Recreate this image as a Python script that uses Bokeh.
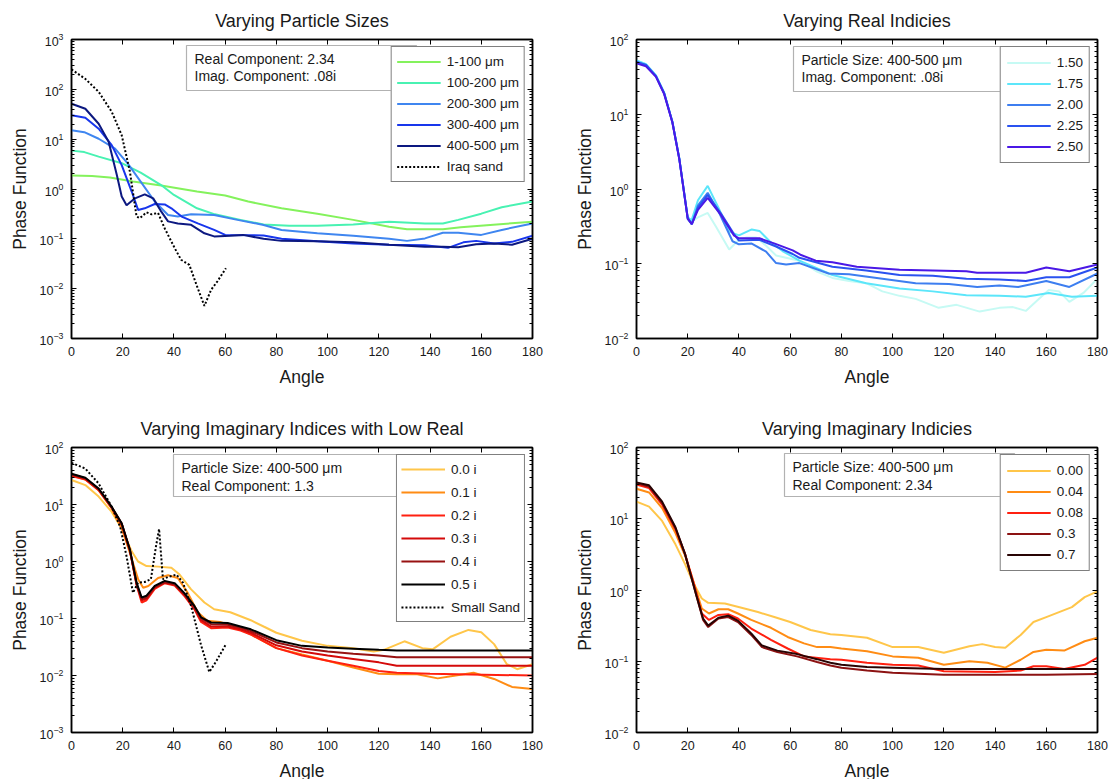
from bokeh.plotting import figure
from bokeh.models import Range1d, FixedTicker, LinearAxis, BoxAnnotation, Label, CustomJSTickFormatter
from bokeh.layouts import column, row
from bokeh.embed import file_html
from bokeh.resources import INLINE

FONT = "Liberation Sans"
INK = "#1a1a1a"

angle_ticks = [0, 20, 40, 60, 80, 100, 120, 140, 160, 180]

# ---------------- Panel 1: Varying Particle Sizes ----------------
size_1_100_angle = [0, 8, 15, 24, 35, 49, 60, 69, 82, 96, 110, 124, 131, 145, 152, 166, 180]
size_1_100_phase = [1.86, 1.82, 1.70, 1.41, 1.17, 0.89, 0.74, 0.56, 0.41, 0.32, 0.24, 0.174, 0.155, 0.155, 0.170, 0.195, 0.219]
size_100_200_angle = [0, 5, 10.6, 20, 27, 35, 40, 49, 56, 66, 75, 85, 96, 110, 124, 138, 145, 151, 160, 168, 180]
size_100_200_phase = [5.89, 5.50, 4.47, 3.24, 2.14, 1.20, 0.76, 0.41, 0.31, 0.24, 0.195, 0.182, 0.182, 0.195, 0.219, 0.204, 0.204, 0.24, 0.32, 0.43, 0.56]
size_200_300_angle = [0, 5, 10.6, 17, 22, 27, 32.5, 37.7, 41.5, 46.7, 55.7, 64.8, 75, 82, 96, 110, 124, 131, 138, 145, 151, 160, 168, 180]
size_200_300_phase = [15.1, 13.8, 10.2, 6.46, 3.24, 1.41, 0.56, 0.30, 0.28, 0.31, 0.30, 0.24, 0.19, 0.151, 0.129, 0.115, 0.100, 0.091, 0.102, 0.132, 0.132, 0.120, 0.151, 0.204]
size_300_400_angle = [0, 5.4, 10.6, 15.7, 19.6, 23.5, 26, 28.6, 32.5, 36.4, 39, 43, 49.3, 55.7, 60, 75, 82, 96, 110, 124, 138, 147, 153, 158, 165, 172, 180]
size_300_400_phase = [30.2, 26.9, 16.2, 7.59, 3.02, 0.89, 0.38, 0.41, 0.50, 0.49, 0.41, 0.28, 0.204, 0.151, 0.120, 0.117, 0.100, 0.089, 0.081, 0.076, 0.074, 0.066, 0.085, 0.091, 0.081, 0.087, 0.115]
size_400_500_angle = [0, 5.4, 10.6, 14.5, 17.7, 19.6, 21.5, 24.8, 28.6, 31.9, 35, 37.7, 41.5, 46.7, 51.9, 55.7, 62, 67, 75, 82, 96, 110, 124, 138, 145, 151, 158, 165, 172, 180]
size_400_500_phase = [51.3, 40.7, 20.4, 8.91, 1.91, 0.71, 0.47, 0.65, 0.78, 0.65, 0.355, 0.224, 0.204, 0.191, 0.129, 0.112, 0.115, 0.120, 0.100, 0.091, 0.089, 0.085, 0.076, 0.069, 0.069, 0.068, 0.078, 0.081, 0.076, 0.100]
iraq_sand_angle = [0, 5.4, 10.6, 15.7, 19.6, 22.8, 25.4, 26.7, 29.3, 31.2, 33.8, 36.4, 40.3, 42.8, 46, 49.3, 51.9, 54.5, 57, 60.3]
iraq_sand_phase = [251, 162, 89.1, 35.5, 12.0, 2.24, 0.28, 0.26, 0.34, 0.31, 0.33, 0.162, 0.065, 0.038, 0.030, 0.0102, 0.0045, 0.0095, 0.0141, 0.0257]

# ---------------- Panel 2: Varying Real Indicies ----------------
real_150_angle = [0, 3.7, 7.6, 10.8, 14, 16.7, 20, 21, 24, 27.8, 31, 36.2, 40, 43, 46.7, 50.6, 54.5, 63.6, 70.2, 76.5, 83, 89.7, 96, 102.7, 109, 118, 125, 134, 141.7, 147, 152, 157.5, 161, 165, 169, 174.5, 180]
real_150_phase = [52.5, 46.8, 33.1, 19.5, 7.94, 2.57, 0.389, 0.355, 0.417, 0.479, 0.316, 0.155, 0.209, 0.224, 0.224, 0.174, 0.129, 0.110, 0.0794, 0.0646, 0.0589, 0.0550, 0.0427, 0.0372, 0.0339, 0.0257, 0.0282, 0.0229, 0.0257, 0.0263, 0.0234, 0.0347, 0.0447, 0.0427, 0.0309, 0.0407, 0.0631]
real_175_angle = [0, 3.7, 7.6, 10.8, 14, 16.7, 20, 21.5, 24, 27.8, 32, 36.2, 40, 45, 48, 52, 57, 63.6, 76.5, 89.7, 102.7, 115.7, 128.8, 141.7, 152, 161, 170, 180]
real_175_phase = [52.5, 46.8, 33.1, 19.5, 7.94, 2.57, 0.417, 0.380, 0.708, 1.10, 0.562, 0.269, 0.240, 0.288, 0.275, 0.200, 0.148, 0.110, 0.0708, 0.0550, 0.0468, 0.0427, 0.0380, 0.0372, 0.0363, 0.0407, 0.0363, 0.0372]
real_200_angle = [0, 3.7, 7.6, 10.8, 14, 16.7, 20, 21.6, 24, 27.8, 32, 37.5, 40, 45, 50.6, 54.5, 58.4, 63.6, 75, 83, 96, 109, 122, 133, 141.7, 149, 160, 169, 180]
real_200_phase = [50.1, 45.7, 32.4, 19.1, 7.94, 2.57, 0.407, 0.339, 0.603, 0.891, 0.501, 0.200, 0.182, 0.186, 0.145, 0.102, 0.0977, 0.102, 0.0741, 0.0724, 0.0631, 0.0550, 0.0537, 0.0490, 0.0513, 0.0490, 0.0589, 0.0490, 0.0741]
real_225_angle = [0, 3.7, 7.6, 10.8, 14, 16.7, 20, 21.6, 24, 27.8, 33, 38, 40, 48, 54.5, 61, 63.6, 76.5, 89.7, 102.7, 115.7, 128.8, 141.7, 152, 160, 169, 180]
real_225_phase = [50.1, 45.7, 32.4, 19.1, 7.94, 2.57, 0.407, 0.339, 0.562, 0.832, 0.468, 0.251, 0.204, 0.209, 0.170, 0.135, 0.120, 0.0912, 0.0813, 0.0708, 0.0692, 0.0631, 0.0617, 0.0589, 0.0661, 0.0661, 0.0891]
real_250_angle = [0, 3.7, 7.6, 10.8, 14, 16.7, 20, 21.6, 24, 27.8, 33, 38, 40, 48, 54, 61, 64, 70, 76.5, 86, 102.7, 115.7, 128.8, 133, 152, 160, 169, 180]
real_250_phase = [47.9, 43.7, 31.6, 18.6, 7.76, 2.51, 0.398, 0.339, 0.525, 0.759, 0.447, 0.240, 0.219, 0.219, 0.186, 0.151, 0.132, 0.110, 0.105, 0.0912, 0.0832, 0.0813, 0.0794, 0.0759, 0.0759, 0.0891, 0.0794, 0.0977]

# ---------------- Panel 3: Varying Imaginary Indices with Low Real ----------------
low_00_angle = [0, 5.4, 10.6, 15.7, 19.6, 23.5, 26, 29.3, 33.8, 39, 42.2, 46.7, 51.9, 55.7, 62, 70, 75, 80, 90, 100, 110, 118, 122, 130, 137, 141, 148, 155, 160, 165, 170, 174, 180]
low_00_phase = [26.9, 21.9, 13.8, 7.41, 3.80, 1.51, 1.00, 0.832, 0.813, 0.776, 0.589, 0.324, 0.191, 0.145, 0.129, 0.0933, 0.0724, 0.0562, 0.0407, 0.0331, 0.0302, 0.0263, 0.0282, 0.0398, 0.0302, 0.0288, 0.0479, 0.0631, 0.0575, 0.0355, 0.0158, 0.0129, 0.0158]
low_01_angle = [0, 5.4, 10.6, 15.7, 19.6, 22.8, 26, 28, 30, 33.8, 37.7, 41.5, 45.4, 49.3, 53, 58, 64.8, 70, 80, 90, 100, 110, 120, 127, 135, 143, 150, 157, 165, 172, 180]
low_01_phase = [32.4, 27.5, 17.8, 8.51, 3.80, 1.41, 0.490, 0.347, 0.372, 0.513, 0.575, 0.513, 0.282, 0.129, 0.0912, 0.0871, 0.0692, 0.0525, 0.0302, 0.0234, 0.0182, 0.0138, 0.0107, 0.0105, 0.0105, 0.0089, 0.0100, 0.0112, 0.0087, 0.0063, 0.0058]
low_02_angle = [0, 5.4, 10.6, 15.7, 19.6, 22.8, 25.4, 27.4, 29.3, 32.5, 36.4, 40.3, 44, 48, 50.6, 54.5, 61, 66, 70, 80, 90, 100, 110, 120, 127, 140, 180]
low_02_phase = [31.6, 27.5, 17.8, 8.71, 4.47, 1.55, 0.389, 0.191, 0.209, 0.331, 0.417, 0.380, 0.251, 0.145, 0.0871, 0.0676, 0.0692, 0.0617, 0.0525, 0.0302, 0.0224, 0.0182, 0.0148, 0.0120, 0.0112, 0.0107, 0.0100]
low_03_angle = [0, 5.4, 10.6, 15.7, 19.6, 22.8, 25.4, 27.4, 29.3, 32.5, 36.4, 40.3, 44, 48, 50.6, 54.5, 61, 66, 70, 80, 90, 100, 110, 120, 127, 180]
low_03_phase = [33.1, 28.2, 18.2, 8.91, 4.57, 1.58, 0.398, 0.209, 0.224, 0.347, 0.427, 0.389, 0.263, 0.151, 0.0933, 0.0724, 0.0724, 0.0646, 0.0562, 0.0339, 0.0263, 0.0224, 0.0195, 0.0170, 0.0148, 0.0148]
low_04_angle = [0, 5.4, 10.6, 15.7, 19.6, 22.8, 25.4, 27.4, 29.3, 32.5, 36.4, 40.3, 44, 48, 50.6, 54.5, 61, 66, 70, 80, 90, 100, 110, 120, 127, 180]
low_04_phase = [33.9, 28.8, 18.6, 8.91, 4.57, 1.58, 0.407, 0.219, 0.234, 0.355, 0.437, 0.398, 0.269, 0.158, 0.100, 0.0794, 0.0776, 0.0692, 0.0603, 0.0380, 0.0302, 0.0263, 0.0240, 0.0224, 0.0209, 0.0209]
low_05_angle = [0, 5.4, 10.6, 15.7, 19.6, 22.8, 25.4, 27.4, 29.3, 32.5, 36.4, 40.3, 44, 48, 50.6, 54.5, 61, 66, 70, 80, 90, 100, 110, 120, 127, 180]
low_05_phase = [34.7, 29.5, 19.1, 9.12, 4.68, 1.62, 0.427, 0.234, 0.251, 0.372, 0.457, 0.417, 0.282, 0.166, 0.105, 0.0851, 0.0832, 0.0724, 0.0646, 0.0417, 0.0331, 0.0309, 0.0295, 0.0282, 0.0275, 0.0275]
small_sand_angle = [0, 5.4, 10.6, 15.7, 19, 21.5, 24, 26, 28.6, 31, 33, 34.2, 35.7, 37.7, 41, 43.5, 46.7, 50.6, 53.8, 56.4, 60.3]
small_sand_phase = [53.7, 42.7, 23.4, 9.12, 4.07, 1.23, 0.282, 0.427, 0.437, 0.490, 1.86, 3.72, 0.490, 0.537, 0.589, 0.427, 0.166, 0.0339, 0.0115, 0.0174, 0.0355]

# ---------------- Panel 4: Varying Imaginary Indicies ----------------
imag_000_angle = [0, 4.9, 10, 15.2, 19, 22.3, 25.5, 28, 34.5, 41, 47.4, 53.8, 60, 68, 75.7, 80, 90, 100, 110, 120, 130, 135, 140, 144, 150, 155, 160, 170, 175, 180]
imag_000_phase = [17.4, 14.8, 9.33, 4.37, 2.29, 1.23, 0.759, 0.661, 0.646, 0.562, 0.490, 0.417, 0.355, 0.275, 0.240, 0.234, 0.214, 0.158, 0.158, 0.132, 0.162, 0.174, 0.158, 0.155, 0.234, 0.355, 0.417, 0.575, 0.794, 0.955]
imag_004_angle = [0, 4.9, 10, 15.2, 19, 22.3, 25.5, 28.3, 32, 35.8, 39.6, 44.8, 52.5, 59, 65.4, 70.5, 75.7, 80, 90, 100, 110, 120, 130, 137, 144, 150, 155, 160, 167, 175, 180]
imag_004_phase = [26.3, 23.4, 14.1, 6.31, 3.02, 1.29, 0.550, 0.468, 0.537, 0.537, 0.468, 0.380, 0.295, 0.219, 0.178, 0.158, 0.158, 0.151, 0.138, 0.117, 0.112, 0.0891, 0.100, 0.0955, 0.0813, 0.105, 0.135, 0.145, 0.141, 0.191, 0.214]
imag_008_angle = [0, 4.9, 10, 15.2, 19, 22.3, 25.5, 28.3, 32, 35.8, 39.6, 44.8, 52.5, 59, 65.4, 75.7, 80, 90, 100, 110, 120, 140, 150, 155, 160, 167, 175, 180]
imag_008_phase = [30.2, 26.9, 15.8, 7.08, 3.16, 1.26, 0.468, 0.380, 0.447, 0.457, 0.398, 0.288, 0.200, 0.151, 0.117, 0.107, 0.105, 0.0955, 0.0891, 0.0871, 0.0724, 0.0708, 0.0741, 0.0851, 0.0851, 0.0776, 0.0891, 0.112]
imag_03_angle = [0, 4.9, 10, 15.2, 19, 23.4, 26, 28, 32, 35.8, 39.6, 44.8, 49, 55, 62.7, 70.5, 75.7, 80, 90, 100, 120, 140, 160, 180]
imag_03_phase = [31.6, 28.2, 16.6, 7.41, 3.16, 0.832, 0.380, 0.302, 0.398, 0.417, 0.355, 0.234, 0.158, 0.135, 0.117, 0.0977, 0.0871, 0.0813, 0.0741, 0.0692, 0.0646, 0.0646, 0.0646, 0.0661]
imag_07_angle = [0, 4.9, 10, 15.2, 19, 23.4, 26, 28, 32, 35.8, 39.6, 44.8, 49, 55, 62.7, 70.5, 75.7, 80, 90, 100, 120, 140, 160, 180]
imag_07_phase = [32.4, 29.5, 17.4, 7.59, 3.16, 0.832, 0.398, 0.316, 0.407, 0.437, 0.372, 0.245, 0.166, 0.141, 0.126, 0.107, 0.0955, 0.0891, 0.0832, 0.0813, 0.0776, 0.0776, 0.0776, 0.0776]

FW = 461


def make_panel(title, lo, hi, fh, bl, br, bt, bb):
    p = figure(frame_width=FW, frame_height=fh,
               x_range=Range1d(0, 180), y_range=Range1d(10.0 ** lo, 10.0 ** hi),
               y_axis_type="log", output_backend="svg", toolbar_location=None,
               min_border_left=bl, min_border_right=br, min_border_top=bt, min_border_bottom=bb,
               background_fill_color="white", border_fill_color="white")
    p.outline_line_color = "black"
    p.outline_line_width = 1.5
    p.grid.visible = False
    major = [10.0 ** e for e in range(lo, hi + 1)]
    minor = [m * 10.0 ** e for e in range(lo, hi) for m in range(2, 10)]
    xt = FixedTicker(ticks=angle_ticks, minor_ticks=[])
    yt = FixedTicker(ticks=major, minor_ticks=minor)
    p.xaxis.ticker = xt
    p.yaxis.ticker = yt
    p.xaxis.axis_label = "Angle"
    p.yaxis.axis_label = "Phase Function"
    for ax in (p.xaxis[0], p.yaxis[0]):
        ax.axis_line_width = 1.5
        ax.major_tick_in = 5
        ax.major_tick_out = 0
        ax.minor_tick_in = 3
        ax.minor_tick_out = 0
        ax.major_label_text_font = FONT
        ax.major_label_text_font_size = "12.5px"
        ax.major_label_text_color = INK
        ax.axis_label_text_font = FONT
        ax.axis_label_text_font_size = "17.5px"
        ax.axis_label_text_font_style = "normal"
        ax.axis_label_text_color = INK
    p.xaxis.major_label_standoff = 8
    p.xaxis.axis_label_standoff = 8
    p.yaxis.major_label_standoff = 8
    p.yaxis.axis_label_standoff = 7
    blank = CustomJSTickFormatter(code="return ''")
    top = LinearAxis(ticker=xt, formatter=blank, major_label_standoff=0,
                     major_tick_in=5, major_tick_out=0, minor_tick_in=0, minor_tick_out=0,
                     axis_line_width=1.5)
    right = LinearAxis(ticker=yt, formatter=blank, major_label_standoff=0,
                       major_tick_in=5, major_tick_out=0, minor_tick_in=3, minor_tick_out=0,
                       axis_line_width=1.5)
    p.add_layout(top, "above")
    p.add_layout(right, "right")
    p.title.text = title
    p.title.align = "center"
    p.title.text_font = FONT
    p.title.text_font_size = "18px"
    p.title.text_font_style = "normal"
    p.title.text_color = INK
    p.title.standoff = 17
    return p


def add_note(p, lo, hi, fh, left_px, lines, top_px, box_h, line_y):
    def dx(px):
        return 180.0 * px / FW

    def dy(px):
        return 10.0 ** (hi - (hi - lo) * px / fh)

    box = BoxAnnotation(left=dx(left_px), right=dx(left_px + 230), top=dy(top_px), bottom=dy(top_px + box_h),
                        fill_color="white", fill_alpha=1.0, line_color="black", line_width=1.2)
    p.add_layout(box)
    for t, ly in zip(lines, line_y):
        p.add_layout(Label(x=dx(left_px + 8), y=dy(ly), text=t,
                           text_font=FONT, text_font_size="14px", text_color=INK,
                           text_baseline="middle", text_align="left"))


def style_legend(p, label_h, spacing, padding):
    leg = p.legend[0]
    leg.location = "top_right"
    leg.margin = 7
    leg.border_line_color = "black"
    leg.border_line_width = 1.5
    leg.background_fill_color = "white"
    leg.background_fill_alpha = 1.0
    leg.padding = padding
    leg.spacing = spacing
    leg.label_height = label_h
    leg.glyph_height = label_h
    leg.glyph_width = 44
    leg.label_standoff = 6
    leg.label_text_font = FONT
    leg.label_text_font_size = "13.5px"
    leg.label_text_color = INK


# ---- Panel 1 ----
p1 = make_panel("Varying Particle Sizes", -3, 3, 299, 71, 27, 38, 48)
add_note(p1, -3, 3, 299, 115, ["Real Component: 2.34", "Imag. Component: .08i"], 6, 45, [19, 36])
p1_series = [
    ("1-100 μm", "#84f25c", size_1_100_angle, size_1_100_phase, "solid"),
    ("100-200 μm", "#48f2b2", size_100_200_angle, size_100_200_phase, "solid"),
    ("200-300 μm", "#3f86f0", size_200_300_angle, size_200_300_phase, "solid"),
    ("300-400 μm", "#1836ec", size_300_400_angle, size_300_400_phase, "solid"),
    ("400-500 μm", "#0c1880", size_400_500_angle, size_400_500_phase, "solid"),
    ("Iraq sand", "black", iraq_sand_angle, iraq_sand_phase, "2 2"),
]
for lab, col, xs, ys, dash in p1_series:
    p1.line(xs, ys, line_color=col, line_width=2, line_dash=dash, legend_label=lab)
style_legend(p1, 19, 2, 5)

# ---- Panel 2 ----
p2 = make_panel("Varying Real Indicies", -2, 2, 299, 77, 14, 38, 48)
add_note(p2, -2, 2, 299, 157, ["Particle Size: 400-500 μm", "Imag. Component: .08i"], 7, 45, [20, 37])
p2_series = [
    ("1.50", "#c6faf4", real_150_angle, real_150_phase),
    ("1.75", "#5ce6fa", real_175_angle, real_175_phase),
    ("2.00", "#3d7ef0", real_200_angle, real_200_phase),
    ("2.25", "#2a52f0", real_225_angle, real_225_phase),
    ("2.50", "#4a18e6", real_250_angle, real_250_phase),
]
for lab, col, xs, ys in p2_series:
    p2.line(xs, ys, line_color=col, line_width=2, legend_label=lab)
style_legend(p2, 19, 2, 6)

# ---- Panel 3 ----
p3 = make_panel("Varying Imaginary Indices with Low Real", -3, 2, 285, 71, 27, 58, 49)
add_note(p3, -3, 2, 285, 102, ["Particle Size: 400-500 μm", "Real Component: 1.3"], 7, 42, [20, 38])
p3_series = [
    ("0.0 i", "#ffc64a", low_00_angle, low_00_phase, "solid"),
    ("0.1 i", "#ff8c14", low_01_angle, low_01_phase, "solid"),
    ("0.2 i", "#ff2010", low_02_angle, low_02_phase, "solid"),
    ("0.3 i", "#d40a0a", low_03_angle, low_03_phase, "solid"),
    ("0.4 i", "#981212", low_04_angle, low_04_phase, "solid"),
    ("0.5 i", "black", low_05_angle, low_05_phase, "solid"),
    ("Small Sand", "black", small_sand_angle, small_sand_phase, "2 2"),
]
for lab, col, xs, ys, dash in p3_series:
    p3.line(xs, ys, line_color=col, line_width=2, line_dash=dash, legend_label=lab)
style_legend(p3, 20, 3, 4)

# ---- Panel 4 ----
p4 = make_panel("Varying Imaginary Indicies", -2, 2, 285, 77, 14, 58, 49)
add_note(p4, -2, 2, 285, 148, ["Particle Size: 400-500 μm", "Real Component: 2.34"], 6, 43, [19, 37])
p4_series = [
    ("0.00", "#ffc64a", imag_000_angle, imag_000_phase),
    ("0.04", "#ff8c14", imag_004_angle, imag_004_phase),
    ("0.08", "#ff2010", imag_008_angle, imag_008_phase),
    ("0.3", "#8c1212", imag_03_angle, imag_03_phase),
    ("0.7", "#280404", imag_07_angle, imag_07_phase),
]
for lab, col, xs, ys in p4_series:
    p4.line(xs, ys, line_color=col, line_width=2, legend_label=lab)
style_legend(p4, 19, 2, 6)

layout = column(row(p1, p2), row(p3, p4))
open("out.html", "w").write(file_html(layout, INLINE))
